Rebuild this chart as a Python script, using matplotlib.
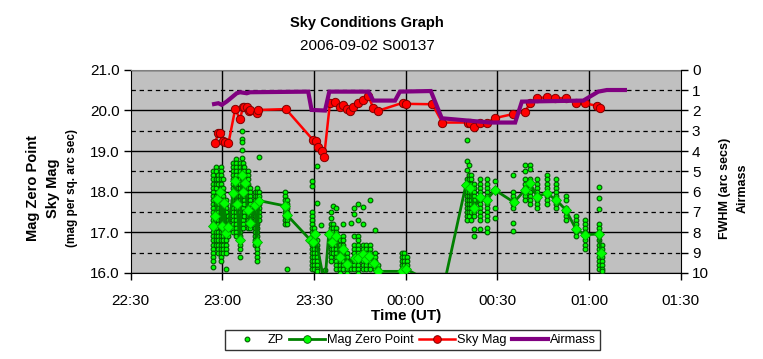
import matplotlib

matplotlib.use("Agg")
import matplotlib.pyplot as plt
from matplotlib.lines import Line2D
from matplotlib.ticker import FuncFormatter

plt.rcParams["font.family"] = ["Liberation Sans", "DejaVu Sans"]

# all times are minutes after 22:30 UT
TICK_LABELS = ["22:30", "23:00", "23:30", "00:00", "00:30", "01:00", "01:30"]

# ZP: individual zero-point measurements, grouped in exposure columns
zp_t = [27.1, 27.8, 28.7, 29.6, 30.3, 31.2, 32.0, 33.6, 34.5, 35.8, 36.3,
        36.7, 37.2, 38.3, 39.1, 40.7, 41.5, 42.1, 50.5, 51.1,
        59.3, 60.1, 60.9, 62.3, 63.6, 65.5, 66.3, 67.2, 68.5, 69.4, 70.7,
        72.0, 73.1, 74.5, 75.9, 77.0, 78.3, 80.0, 81.0, 88.7, 89.4, 90.3,
        110.0, 110.8, 111.4, 112.3, 114.3, 116.5, 119.2, 125.2, 129.0,
        130.7, 132.9, 136.1, 139.2, 142.4, 145.7, 148.7, 153.2, 154.1]
zp_mag = [
    [18.5, 18.4, 18.3, 18.2, 18.1, 18.0, 17.9, 17.8, 17.7, 17.6, 17.5, 17.4,
     17.3, 17.2, 17.1, 17.0, 16.9, 16.8, 16.7, 16.6, 16.5, 16.4, 16.3, 16.15],
    [18.6, 18.5, 18.3, 18.2, 18.1, 17.9, 17.8, 17.7, 17.5, 17.4, 17.3, 17.1,
     17.0, 16.9, 16.8, 16.7],
    [18.4, 18.3, 18.2, 18.0, 17.9, 17.8, 17.7, 17.6, 17.5, 17.4, 17.3, 17.2,
     17.0, 16.9, 16.8, 16.7, 16.6, 16.5],
    [18.6, 18.5, 18.4, 18.3, 18.2, 18.1, 18.0, 17.9, 17.8, 17.6, 17.5, 17.4,
     17.3, 17.2, 17.1, 17.0, 16.9, 16.8, 16.7, 16.6, 16.5, 16.4, 16.3],
    [18.3, 18.1, 18.0, 17.9, 17.8, 17.7, 17.6, 17.5, 17.3, 17.2, 17.1, 17.0,
     16.9, 16.8, 16.7, 16.6, 16.5],
    [17.8, 17.7, 17.6, 17.5, 17.4, 17.3, 17.2, 17.1, 17.0, 16.9, 16.8, 16.7,
     16.6, 16.5, 16.1],
    [17.4, 17.3, 17.2, 17.1, 17.0, 16.9],
    [18.7, 18.6, 18.5, 18.4, 18.3, 18.2, 18.1, 18.0, 17.9, 17.8, 17.7, 17.6,
     17.5, 17.4, 17.3, 17.2, 17.1, 17.0],
    [18.8, 18.7, 18.6, 18.5, 18.4, 18.3, 18.2, 18.1, 18.0, 17.9, 17.8, 17.7,
     17.6, 17.5, 17.4, 17.3, 17.2, 17.1, 17.0, 16.9],
    [18.7, 18.6, 18.5, 18.4, 18.3, 18.2, 18.1, 18.0, 17.9, 17.8, 17.7, 17.6,
     17.5, 17.4, 17.3, 17.2, 17.1, 17.0, 16.9, 16.8, 16.7, 16.6, 16.4],
    [19.49, 19.29, 19.21, 19.03, 18.84],
    [18.7, 18.6, 18.5, 18.4, 18.3, 18.2, 18.1, 18.0, 17.9, 17.8, 17.7, 17.6,
     17.5, 17.4, 17.3, 17.2, 17.1],
    [18.6, 18.5, 18.4, 18.3, 18.2, 18.0, 17.9, 17.8, 17.7, 17.5, 17.4],
    [18.5, 18.4, 18.3, 18.2, 18.1, 18.0, 17.9, 17.8, 17.7, 17.6, 17.5, 17.4,
     17.3, 17.2, 17.1],
    [18.1, 18.0, 17.9, 17.8, 17.7, 17.6, 17.5, 17.4, 17.3, 17.2, 17.1],
    [18.0, 17.9, 17.8, 17.7, 17.6, 17.5, 17.4, 17.3, 17.2, 17.1, 17.0, 16.9,
     16.8, 16.7],
    [18.1, 18.0, 17.9, 17.8, 17.7, 17.6, 17.5, 17.4, 17.3, 17.2, 17.1, 17.0,
     16.9, 16.8, 16.7, 16.6, 16.5, 16.4, 16.3],
    [18.86, 18.0, 17.9, 17.8, 17.7, 17.6, 17.5, 17.4, 17.3],
    [18.0, 17.9, 17.8, 17.7, 17.6, 17.5, 17.4, 17.3, 17.2],
    [17.8, 17.7, 17.6, 17.5, 17.4, 17.3, 17.2, 16.1],
    [18.25, 18.14, 17.5, 17.4, 17.3, 17.2, 17.1, 17.0, 16.9, 16.8, 16.7, 16.6,
     16.5, 16.4, 16.3, 16.2, 16.1],
    [17.1, 17.0, 16.9, 16.8, 16.7, 16.6, 16.5, 16.4, 16.3, 16.2, 16.1],
    [18.62, 17.73, 16.8, 16.7, 16.6, 16.5, 16.4, 16.3, 16.2, 16.1, 16.05],
    [17.18],
    [16.08],
    [17.5, 17.35, 17.2, 17.1, 17.0, 16.9, 16.8, 16.7, 16.6, 16.5, 16.4, 16.3],
    [17.65, 17.2, 17.1, 17.0, 16.9, 16.8, 16.7, 16.6, 16.5],
    [17.6, 17.1, 17.0, 16.9, 16.8, 16.7, 16.6, 16.5, 16.4, 16.3, 16.2, 16.1],
    [16.8, 16.7, 16.6, 16.5, 16.4, 16.3, 16.2, 16.1, 16.0],
    [17.21, 16.9, 16.8, 16.7, 16.6, 16.5, 16.4, 16.3, 16.2, 16.1],
    [16.5, 16.4, 16.3, 16.2, 16.1, 16.0],
    [17.23, 16.3, 16.2, 16.1],
    [17.6, 17.45, 16.9, 16.7, 16.6, 16.5, 16.4, 16.3, 16.2, 16.1],
    [17.7, 17.3, 16.9, 16.8, 16.7, 16.6, 16.5, 16.4, 16.3, 16.2, 16.1, 16.0],
    [17.63, 17.2, 16.7, 16.6, 16.5, 16.4, 16.3, 16.2, 16.1],
    [16.7, 16.6, 16.5, 16.4, 16.3, 16.2, 16.1],
    [17.8, 16.7, 16.6, 16.5, 16.4, 16.3, 16.2, 16.1],
    [17.06, 16.5, 16.4, 16.3, 16.2, 16.1],
    [16.2, 16.1, 16.0],
    [16.5, 16.4, 16.3, 16.2, 16.1],
    [16.5, 16.4, 16.3, 16.2, 16.1, 16.05],
    [16.4, 16.3, 16.2, 16.1],
    [19.27, 18.76, 18.54, 18.3, 18.2, 18.1, 18.0, 17.9, 17.8, 17.7, 17.6,
     17.5, 17.4, 17.3],
    [18.66, 18.4, 18.3, 18.2, 18.1, 18.0, 17.9, 17.8, 17.7, 17.6, 17.5, 17.4],
    [18.4, 18.3, 18.2, 18.1, 18.0, 17.9, 17.8, 17.7, 17.6, 17.5, 17.3],
    [18.2, 18.1, 18.0, 17.9, 17.8, 17.7, 17.6, 17.5, 17.4, 17.07, 16.9],
    [18.3, 18.2, 18.1, 18.0, 17.9, 17.8, 17.7, 17.6, 17.5, 17.4, 17.3, 17.07],
    [18.3, 18.2, 18.1, 18.0, 17.9, 17.8, 17.7, 17.6, 17.5, 17.4, 17.3, 17.1,
     17.0],
    [18.27, 17.6, 17.35],
    [18.41, 18.0, 17.9, 17.8, 17.7, 17.6, 17.24, 17.04],
    [18.66, 18.5, 18.3, 18.2, 18.1, 18.0, 17.9, 17.8],
    [18.66, 18.55, 18.3, 18.2, 18.1, 18.0, 17.9, 17.8, 17.7],
    [18.3, 18.2, 18.1, 18.0, 17.9, 17.8, 17.7, 17.6],
    [18.4, 18.3, 18.2, 18.1, 18.0, 17.9, 17.8, 17.7],
    [18.3, 18.2, 18.1, 18.0, 17.9, 17.8, 17.7, 17.6],
    [17.9, 17.8, 17.6, 17.5, 17.4, 17.3],
    [17.4, 17.3, 17.2, 17.1, 17.0, 16.9],
    [17.3, 17.2, 17.1, 17.0, 16.9, 16.8, 16.7, 16.6],
    [18.11, 17.85, 17.58, 17.2, 17.1, 17.0, 16.9, 16.8, 16.7, 16.6, 16.5,
     16.4, 16.3, 16.2, 16.1],
    [16.7, 16.6, 16.5, 16.4, 16.3, 16.2, 16.1, 16.05],
]

# Mag Zero Point (per-image median)
mzp_t = [27.1, 27.6, 28.4, 29.2, 29.8, 30.6, 31.2, 31.8, 33.6, 34.2, 34.7,
         35.8, 36.3, 36.9, 37.4, 38.3, 39.1, 40.7, 41.3, 42.0, 50.5, 51.1,
         58.7, 59.8, 60.3, 63.5, 64.8, 65.8, 67.2, 68.5, 69.4, 70.7, 73.4,
         74.5, 75.9, 76.9, 78.1, 79.6, 81.0, 88.7, 90.1, 102.2, 109.7, 111.0,
         112.3, 114.3, 116.5, 119.2, 125.4, 129.0, 130.7, 132.9, 136.1, 139.2,
         142.4, 145.6, 148.7, 153.2, 153.9]
mzp_mag = [17.16, 17.39, 17.82, 17.98, 17.16, 17.73, 16.98, 17.13, 17.96,
           18.25, 17.70, 16.82, 18.41, 18.00, 18.21, 17.55, 17.23, 17.68,
           16.76, 17.78, 17.65, 17.43, 16.82, 16.77, 16.96, 15.70, 16.96,
           16.75, 16.90, 16.39, 16.59, 16.23, 16.37, 16.37, 16.47, 16.35,
           16.42, 16.24, 16.04, 16.04, 16.10, 15.60, 18.17, 18.10, 17.59,
           17.86, 17.80, 18.04, 17.74, 18.04, 18.21, 17.88, 17.96, 17.80,
           17.55, 17.09, 16.94, 16.96, 16.50]

# Sky Mag
sky_t = [27.6, 28.7, 29.2, 30.3, 31.0, 32.0, 34.2, 35.8, 36.7, 37.2, 38.1,
         38.8, 39.1, 41.3, 41.8, 50.8, 59.8, 60.6, 61.4, 62.5, 63.3, 65.2,
         66.8, 68.5, 69.4, 70.7, 71.8, 72.9, 74.5, 76.1, 77.8, 79.4, 81.0,
         89.2, 90.1, 98.7, 102.0, 110.5, 111.0, 112.3, 114.3, 116.7, 119.2,
         125.2, 129.0, 130.7, 132.9, 136.1, 138.9, 142.4, 145.7, 148.7, 152.7,
         153.6]
sky_mag = [19.19, 19.45, 19.45, 19.25, 19.23, 19.19, 20.03, 19.78, 20.07,
           20.09, 20.07, 19.98, 20.01, 19.93, 20.01, 20.03, 19.26, 19.25,
           19.09, 18.99, 18.86, 20.17, 20.21, 20.09, 20.12, 20.03, 19.99,
           20.09, 20.19, 20.26, 20.35, 20.05, 19.99, 20.19, 20.16, 20.15,
           19.70, 19.70, 19.70, 19.60, 19.70, 19.70, 19.81, 19.91, 19.97,
           20.17, 20.30, 20.32, 20.30, 20.30, 20.17, 20.17, 20.11, 20.06]

# Airmass (right axis)
air_t = [27.3, 28.7, 29.8, 31.4, 33.1, 34.7, 35.8, 38.0, 39.1, 58.1, 59.2,
         63.6, 65.0, 77.8, 79.4, 86.5, 88.1, 98.2, 101.8, 105.6, 117.6, 125.8,
         128.0, 148.1, 153.0, 155.8, 161.7]
airmass = [1.69, 1.65, 1.73, 1.57, 1.36, 1.16, 1.11, 1.16, 1.11, 1.08, 1.98,
           2.01, 1.08, 1.08, 1.52, 1.52, 1.08, 1.05, 2.39, 2.44, 2.60, 2.60,
           1.57, 1.52, 1.08, 1.00, 1.00]


def main():
    fig = plt.figure(figsize=(7.63, 3.59), dpi=100)
    ax = fig.add_axes([0.1712, 0.2396, 0.7211, 0.5663])
    ax.set_facecolor("#c0c0c0")
    ax.set_xlim(0, 180)
    ax.set_ylim(16, 21)

    # grid: solid on whole mags / half hours, dashed on half mags
    for m in range(16, 22):
        ax.axhline(m, color="black", lw=1.0, zorder=1)
    for m in (16.5, 17.5, 18.5, 19.5, 20.5):
        ax.axhline(m, color="black", lw=0.9, ls=(0, (3.5, 3)), zorder=1)
    for t in range(30, 180, 30):
        ax.axvline(t, color="black", lw=1.0, zorder=1)

    xs, ys = [], []
    for t, col in zip(zp_t, zp_mag):
        xs += [t] * len(col)
        ys += col
    ax.plot(xs, ys, "o", ms=3.4, mfc="#00ff00", mec="#005a00", mew=0.8,
            ls="none", zorder=3)
    ax.plot(mzp_t, mzp_mag, "-D", color="#008000", lw=2, ms=5.5,
            mfc="#00ff00", mec="#00b000", mew=0.6, zorder=4)
    ax.plot(sky_t, sky_mag, "-o", color="#ff0000", lw=1.8, ms=6,
            mfc="#ff0000", mec="#800000", mew=0.7, zorder=5)

    ax.set_xticks(range(0, 181, 30))
    ax.xaxis.set_major_formatter(FuncFormatter(
        lambda v, p: TICK_LABELS[int(round(v / 30))]))
    ax.set_yticks(range(16, 22))
    ax.yaxis.set_major_formatter(FuncFormatter(lambda v, p: f"{v:.1f}"))
    ax.tick_params(direction="out", length=5, width=1, labelsize=11,
                   colors="black", pad=3)
    ax.tick_params(axis="x", pad=10)
    for side in ("left", "bottom"):
        ax.spines[side].set_color("black")
    ax.spines["top"].set_color("#808080")
    ax.spines["right"].set_visible(False)

    ax2 = ax.twinx()
    ax2.set_ylim(10, 0)
    ax2.set_yticks(range(0, 11))
    ax2.plot(air_t, airmass, color="#800080", lw=3, solid_joinstyle="miter",
             zorder=6)
    ax2.tick_params(direction="out", length=5, width=1, labelsize=11, pad=3)
    ax2.spines["right"].set_color("black")
    for side in ("left", "top", "bottom"):
        ax2.spines[side].set_visible(False)

    ax.set_xlabel("Time (UT)", fontsize=11, fontweight="bold", labelpad=1)

    fig.text(0.043, 0.475, "Mag Zero Point", rotation=90, ha="center",
             va="center", fontsize=10.5, fontweight="bold")
    fig.text(0.069, 0.475, "Sky Mag", rotation=90, ha="center", va="center",
             fontsize=10.5, fontweight="bold")
    fig.text(0.095, 0.475, "(mag per sq. arc sec)", rotation=90, ha="center",
             va="center", fontsize=8.5, fontweight="bold")
    fig.text(0.950, 0.475, "FWHM (arc secs)", rotation=90, ha="center",
             va="center", fontsize=9, fontweight="bold")
    fig.text(0.973, 0.475, "Airmass", rotation=90, ha="center", va="center",
             fontsize=9, fontweight="bold")

    fig.text(0.481, 0.935, "Sky Conditions Graph", ha="center", va="center",
             fontsize=10.5, fontweight="bold")
    fig.text(0.481, 0.873, "2006-09-02 S00137", ha="center", va="center",
             fontsize=11)

    handles = [
        Line2D([], [], ls="none", marker="o", ms=3.4, mfc="#00ff00",
               mec="#005a00", mew=0.8),
        Line2D([], [], color="#008000", lw=2, marker="o", ms=5.5,
               mfc="#00ff00", mec="#005a00", mew=0.6),
        Line2D([], [], color="#ff0000", lw=1.8, marker="o", ms=5.5,
               mfc="#ff0000", mec="#800000", mew=0.7),
        Line2D([], [], color="#800080", lw=3),
    ]
    leg = fig.legend(handles, ["ZP", "Mag Zero Point", "Sky Mag", "Airmass"],
                     loc="center", bbox_to_anchor=(0.541, 0.052), ncol=4,
                     fontsize=9.2, frameon=True, fancybox=False,
                     handlelength=2.8, handletextpad=0.2, columnspacing=0.4,
                     borderpad=0.3, borderaxespad=0)
    leg.get_frame().set_edgecolor("black")
    leg.get_frame().set_linewidth(1.0)

    fig.savefig("out.png", dpi=100, facecolor="white")


if __name__ == "__main__":
    main()
